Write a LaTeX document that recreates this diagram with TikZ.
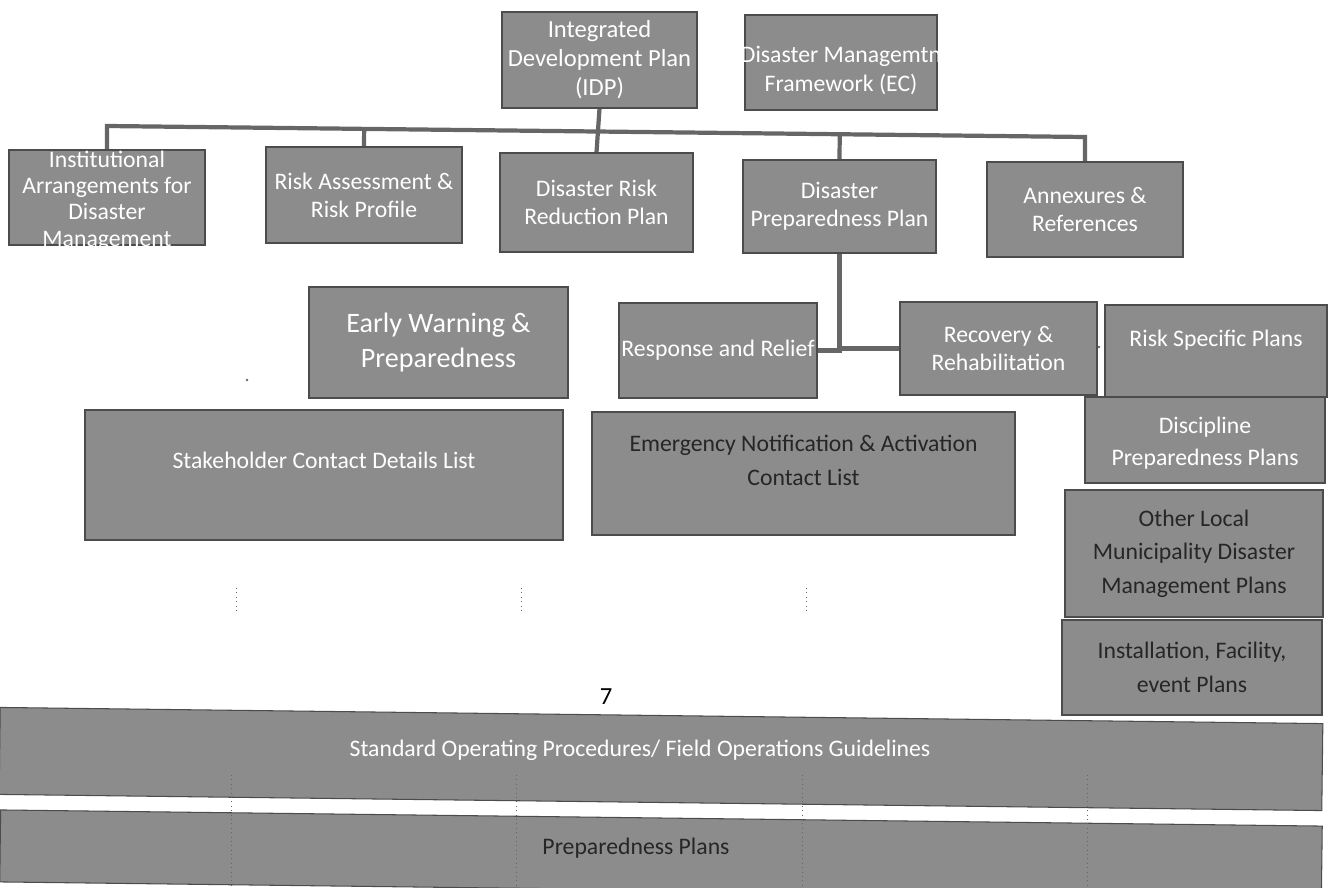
\documentclass[tikz,border=0pt]{standalone}
\usepackage{fontspec}
\setmainfont{Carlito}
\usetikzlibrary{calc,backgrounds}
\tikzstyle{planbox}=[draw=black!70, fill=black!45, inner sep=0pt, line width=0.6pt]
\tikzstyle{boxtext}=[text=white, align=center, inner sep=0pt, font=\fontsize{13.5}{16}\selectfont]
\tikzstyle{darktext}=[text=black!85]
\tikzstyle{link}=[draw=black!60, line width=2.4pt]
\tikzstyle{gridmark}=[draw=black!60, dotted, line width=0.5pt]
\newcommand{\drawplan}[7][]{
\pgfmathsetmacro{\bw}{(#5-#3)*0.02}
\pgfmathsetmacro{\bh}{(#6-#4)*0.02}
\node[planbox, minimum width=\bw cm, minimum height=\bh cm] (#2) at ({(#3+#5)/2},{(#4+#6)/2}) {};
\path (#2.center) node[boxtext,#1] {#7};
}
\begin{document}
\begin{tikzpicture}[x=0.02cm, y=-0.02cm]
\useasboundingbox (0,0) rectangle (1331,888);
% top of the tree
\drawplan[font=\fontsize{14}{16.5}\selectfont]{idp}{502}{12}{697}{108}{Integrated\\Development Plan\\(IDP)}
\drawplan[shift={(0,8)}]{dmf}{745}{15}{937}{110}{Disaster Managemtn\\Framework (EC)}
% second row
\drawplan[font=\fontsize{13.5}{15}\selectfont, shift={(0,3)}]{inst}{9}{150}{205}{245}{Institutional\\Arrangements for\\Disaster\\Management}
\drawplan{ra}{266}{147}{462}{243}{Risk Assessment \&\\Risk Profile}
\drawplan{drr}{500}{153}{693}{252}{Disaster Risk\\Reduction Plan}
\drawplan{dpp}{743}{160}{936}{253}{Disaster\\Preparedness Plan}
\drawplan{annex}{987}{162}{1183}{257}{Annexures \&\\References}
% phases
\drawplan[font=\fontsize{16}{20}\selectfont]{early}{309}{287}{568}{398}{Early Warning \&\\Preparedness}
\drawplan{resp}{619}{303}{817}{398}{Response and Relief}
\drawplan{recov}{900}{302}{1097}{395}{Recovery \&\\Rehabilitation}
% contact lists
\drawplan[shift={(0,-15)}]{stake}{85}{410}{563}{540}{Stakeholder Contact Details List}
\drawplan[darktext, font=\fontsize{13.5}{19}\selectfont, shift={(0,-13)}]{emerg}{592}{412}{1015}{535}{Emergency Notification \& Activation\\Contact List}
% plans column
\drawplan[shift={(0,-11)}]{riskspec}{1105}{305}{1327}{397}{Risk Specific Plans}
\drawplan[font=\fontsize{13.5}{18.5}\selectfont, shift={(0,3)}]{discip}{1085}{397}{1325}{483}{Discipline\\Preparedness Plans}
\drawplan[darktext, font=\fontsize{13.5}{19}\selectfont]{other}{1065}{490}{1323}{617}{Other Local\\Municipality Disaster\\Management Plans}
\drawplan[darktext, font=\fontsize{13.5}{19.5}\selectfont]{install}{1062}{620}{1322}{715}{Installation, Facility,\\event Plans}
% page number
\node[font=\fontsize{14}{16}\selectfont] (pagenum) at (606,697) {7};
% bottom bars
\node[planbox, minimum width=26.46cm, minimum height=1.74cm, rotate=-0.7] (sop) at (661,759) {};
\path (sop.center) node[boxtext, font=\fontsize{13.5}{16}\selectfont, shift={(-21,-9)}] {Standard Operating Procedures/ Field Operations Guidelines};
\node[planbox, minimum width=26.44cm, minimum height=1.44cm, rotate=-0.7] (prep) at (661,854) {};
\path (prep.center) node[boxtext, darktext, shift={(-25,-6)}] {Preparedness Plans};
% faint column guides
\foreach \x in {231,516,802,1087} \draw[gridmark] (\x,775) -- (\x,888);
\foreach \x in {236,521,806} \draw[gridmark] (\x,588) -- (\x,612);
\fill[black!60] (247,380) circle (1.3) (1099,347) circle (1.3);
% connectors
\begin{scope}[on background layer]
\coordinate (busL) at (107,126);
\coordinate (busR) at (1085,137);
\draw[link] (inst.north) -- (busL) -- (busR) -- (annex.north);
\draw[link] (idp.south) -- (drr.north);
\foreach \b in {ra,dpp} \draw[link] (\b.north) -- ($(busL)!(\b.north)!(busR)$);
\draw[link] (dpp.south) |- (resp.east);
\draw[link] (dpp.south) |- (recov.west);
\end{scope}
\end{tikzpicture}
\end{document}
